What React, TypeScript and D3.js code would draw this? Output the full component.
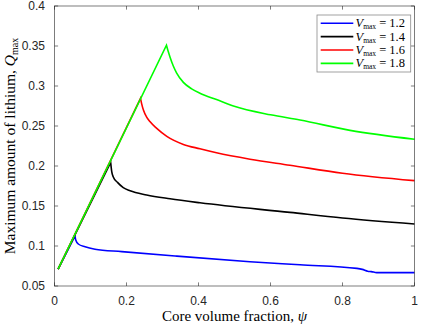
import React, { useEffect, useRef } from "react";
import * as d3 from "d3";

// psi, Q pairs (rising part, then the falling branch)
const blue: [number, number][] = [
  [0.01, 0.071], [0.057, 0.1125], [0.059, 0.1075], [0.066, 0.1025], [0.085, 0.099],
  [0.1125, 0.096], [0.187, 0.093], [0.335, 0.0875], [0.543, 0.0804], [0.682, 0.0765],
  [0.84, 0.072], [0.855, 0.0708], [0.87, 0.0685], [0.88, 0.068], [0.895, 0.0667], [1.0, 0.0667],
];
const black: [number, number][] = [
  [0.01, 0.071], [0.156, 0.2046], [0.159, 0.193], [0.163, 0.1866], [0.175, 0.1795],
  [0.191, 0.173], [0.21, 0.169], [0.256, 0.1638], [0.321, 0.159], [0.404, 0.154],
  [0.654, 0.142], [0.8, 0.135], [1.0, 0.1275],
];
const red: [number, number][] = [
  [0.01, 0.071], [0.239, 0.2846], [0.242, 0.278], [0.247, 0.27], [0.256, 0.261],
  [0.265, 0.2555], [0.284, 0.247], [0.312, 0.237], [0.358, 0.227], [0.404, 0.2215],
  [0.45, 0.2165], [0.543, 0.2085], [0.654, 0.201], [0.8, 0.191], [1.0, 0.1817],
];
const green: [number, number][] = [
  [0.01, 0.071], [0.311, 0.351], [0.316, 0.343], [0.321, 0.336], [0.33, 0.325],
  [0.339, 0.3165], [0.358, 0.3045], [0.381, 0.2965], [0.404, 0.291], [0.45, 0.283],
  [0.497, 0.275], [0.6, 0.264], [0.682, 0.2575], [0.821, 0.2445], [1.0, 0.2334],
];

const vmax = ["1.2", "1.4", "1.6", "1.8"];
const colors = ["#0000ff", "#000000", "#ff0000", "#00ff00"];

const xTicks = [0, 0.2, 0.4, 0.6, 0.8, 1];
const xTickLabels = ["0", "0.2", "0.4", "0.6", "0.8", "1"];
const yTicks = [0.05, 0.1, 0.15, 0.2, 0.25, 0.3, 0.35, 0.4];
const yTickLabels = ["0.05", "0.1", "0.15", "0.2", "0.25", "0.3", "0.35", "0.4"];

const W = 422, H = 325;
const margin = { top: 6, right: 7.5, bottom: 39, left: 54.5 };
const axisCol = "#262626";
const tickFont = "'Liberation Sans', Arial, sans-serif";
const serif = "'Liberation Serif', 'Times New Roman', serif";

export default function App() {
  const ref = useRef<SVGSVGElement>(null);

  useEffect(() => {
    const svg = d3.select(ref.current);
    svg.selectAll("*").remove();

    const x = d3.scaleLinear().domain([0, 1]).range([margin.left, W - margin.right]);
    const y = d3.scaleLinear().domain([0.05, 0.4]).range([H - margin.bottom, margin.top]);
    const [x0, x1] = x.range();
    const [y0, y1] = y.range();
    const tl = 3.6;

    const g = svg.append("g");

    // curves: straight rise up to the peak, smooth decay after it
    const rise = d3.line<[number, number]>().x((d) => x(d[0])).y((d) => y(d[1]));
    const fall = d3.line<[number, number]>().x((d) => x(d[0])).y((d) => y(d[1]))
      .curve(d3.curveMonotoneX);
    [blue, black, red, green].forEach((s, i) => {
      const k = d3.maxIndex(s, (d) => d[1]);
      g.append("path")
        .attr("d", (rise(s.slice(0, k + 1)) || "") + (fall(s.slice(k)) || "").replace(/^M/, "L"))
        .attr("fill", "none")
        .attr("stroke", colors[i])
        .attr("stroke-width", 1.6)
        .attr("stroke-linejoin", "miter");
    });

    // box + ticks
    g.append("rect")
      .attr("x", x0).attr("y", y1)
      .attr("width", x1 - x0).attr("height", y0 - y1)
      .attr("fill", "none").attr("stroke", axisCol).attr("stroke-width", 0.6);

    xTicks.forEach((t, i) => {
      const px = x(t);
      g.append("line").attr("x1", px).attr("x2", px).attr("y1", y0).attr("y2", y0 - tl)
        .attr("stroke", axisCol).attr("stroke-width", 0.6);
      g.append("line").attr("x1", px).attr("x2", px).attr("y1", y1).attr("y2", y1 + tl)
        .attr("stroke", axisCol).attr("stroke-width", 0.6);
      g.append("text").attr("x", px).attr("y", y0 + 18.5)
        .attr("text-anchor", "middle")
        .style("font-family", tickFont).style("font-size", "12px").attr("fill", axisCol)
        .text(xTickLabels[i]);
    });

    yTicks.forEach((t, i) => {
      const py = y(t);
      g.append("line").attr("x1", x0).attr("x2", x0 + tl).attr("y1", py).attr("y2", py)
        .attr("stroke", axisCol).attr("stroke-width", 0.6);
      g.append("line").attr("x1", x1).attr("x2", x1 - tl).attr("y1", py).attr("y2", py)
        .attr("stroke", axisCol).attr("stroke-width", 0.6);
      g.append("text").attr("x", x0 - 9.5).attr("y", py + 4.3)
        .attr("text-anchor", "end")
        .style("font-family", tickFont).style("font-size", "12px").attr("fill", axisCol)
        .text(yTickLabels[i]);
    });

    // axis labels
    const xl = g.append("text")
      .attr("x", (x0 + x1) / 2).attr("y", 321)
      .attr("text-anchor", "middle")
      .style("font-family", serif).style("font-size", "15px").attr("fill", "#000");
    xl.append("tspan").text("Core volume fraction, ");
    xl.append("tspan").style("font-style", "italic").text("ψ");

    const yl = g.append("text")
      .attr("transform", `translate(14.5,${(y0 + y1) / 2}) rotate(-90)`)
      .attr("text-anchor", "middle")
      .style("font-family", serif).style("font-size", "15.5px").attr("fill", "#000");
    yl.append("tspan").text("Maximum amount of lithium, ");
    yl.append("tspan").style("font-style", "italic").text("Q");
    yl.append("tspan").attr("dy", 3).style("font-size", "10px").text("max");

    // legend
    const lx = 317, ly = 15, lw = 93.7, lh = 57;
    g.append("rect").attr("x", lx).attr("y", ly).attr("width", lw).attr("height", lh)
      .attr("fill", "#fff").attr("stroke", "#8a8a8a").attr("stroke-width", 0.8);
    vmax.forEach((v, i) => {
      const ry = ly + 8.3 + i * 13.35;
      g.append("line").attr("x1", lx + 3.7).attr("x2", lx + 36.3).attr("y1", ry).attr("y2", ry)
        .attr("stroke", colors[i]).attr("stroke-width", 1.6);
      const t = g.append("text").attr("x", lx + 38.5).attr("y", ry + 4)
        .style("font-family", serif).style("font-size", "12.5px").attr("fill", "#000");
      t.append("tspan").style("font-style", "italic").text("V");
      t.append("tspan").attr("dy", 2).style("font-size", "7.5px").text("max");
      t.append("tspan").attr("dy", -2).text(" = " + v);
    });
  }, []);

  return (
    <svg
      ref={ref}
      width={W}
      height={H}
      style={{ position: "absolute", left: 0, top: 0, background: "#fff" }}
    />
  );
}
